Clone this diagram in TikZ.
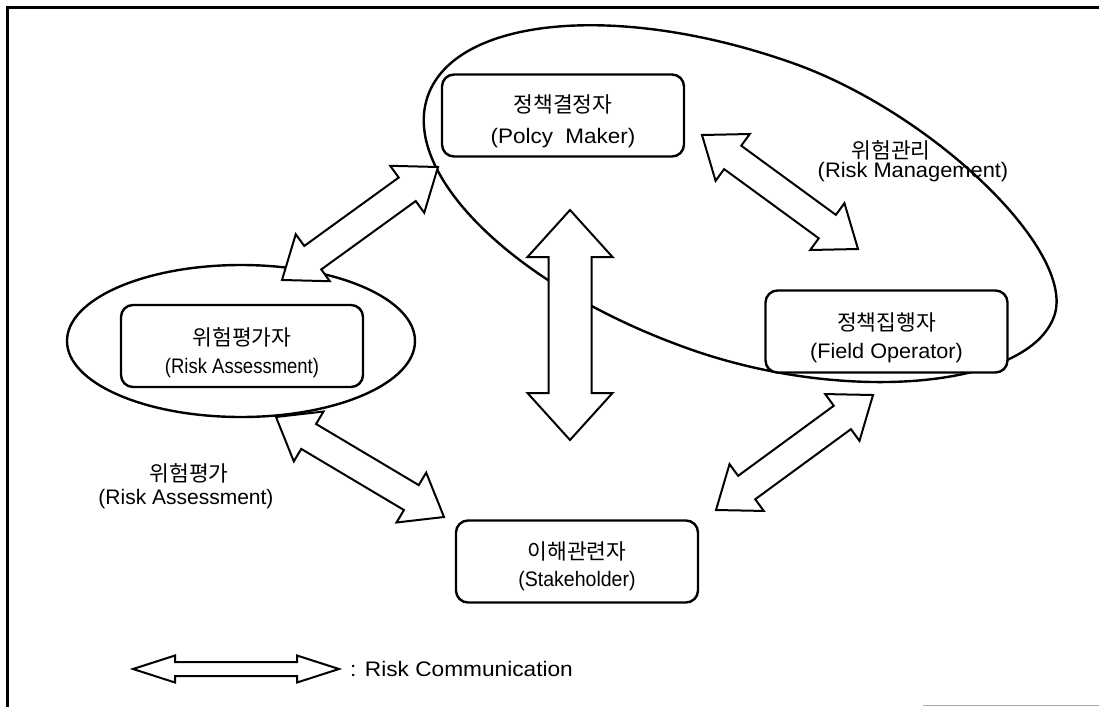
\documentclass[tikz,border=0pt]{standalone}
\usepackage{fontspec}
\setmainfont{Liberation Sans}
\newfontfamily\krfont{Noto Sans CJK KR}
\usetikzlibrary{calc}

\tikzset{
  box/.style={draw, line width=2.4pt, rounded corners=12pt,
    minimum width=242pt, minimum height=82pt, inner sep=0pt},
  boxtext/.style={align=center, inner sep=0pt,
    font=\fontsize{21}{#1}\selectfont},
  boxtext/.default=28,
  entext/.style={inner sep=0pt, font=\fontsize{21}{24}\selectfont},
  krtext/.style={inner sep=0pt, font=\krfont\fontsize{21.5}{24}\selectfont},
  blk/.style={draw, line width=2pt, fill=white, line join=miter},
  group/.style={draw, line width=2.4pt},
  frame/.style={line width=3pt},
}
\newcommand\kr[1]{{\krfont\fontsize{21.5}{22}\selectfont #1}}
\newcommand\txtw[2]{\scalebox{#1}[1]{#2}}

% hollow double-headed block arrow between two tips
% #1,#2 tips; #3 half shaft width; #4 half head width; #5 head length
\newcommand\dblarrow[5]{%
  \draw[blk] (#1)
    -- ($(#1)!#5!(#2)!#4!90:(#2)$)
    -- ($(#1)!#5!(#2)!#3!90:(#2)$)
    -- ($(#2)!#5!(#1)!#3!270:(#1)$)
    -- ($(#2)!#5!(#1)!#4!270:(#1)$)
    -- (#2)
    -- ($(#2)!#5!(#1)!#4!90:(#1)$)
    -- ($(#2)!#5!(#1)!#3!90:(#1)$)
    -- ($(#1)!#5!(#2)!#3!270:(#2)$)
    -- ($(#1)!#5!(#2)!#4!270:(#2)$)
    -- cycle;}

\begin{document}
\begin{tikzpicture}[x=1pt,y=-1pt]
\useasboundingbox (0,0) rectangle (1099,707);

% page frame
\draw[frame] (7,707) -- (7,7) -- (1099,7);
\draw[gray!70, line width=1.2pt] (923,705.5) -- (1099,705.5);

% groupings: risk assessment, and risk management (tilted oval)
\draw[group] (241,341) ellipse [x radius=174pt, y radius=76pt];
\coordinate (mr) at (1054.2,316.0);
\coordinate (mt) at (791.4,62.6);
\coordinate (ml) at (427.8,96.0);
\coordinate (mb) at (690.6,349.4);
\draw[group] (mr)
  .. controls (1076.9,251.5) and (932.4,112.1) .. (mt)
  .. controls (618.4,1.8) and (455.6,16.8) .. (ml)
  .. controls (400,175.2) and (517.6,288.6) .. (mb)
  .. controls (847.2,404.4) and (1029,387.7) .. (mr) -- cycle;

% actors
\node[box, fill=white] (pm) at (563,115.5) {};
\node[box, fill=white] (ra) at (242,346) {};
\node[box, fill=white] (fo) at (886.5,331.5) {};
\node[box, fill=white] (sh) at (577,561.5) {};

\node[boxtext=31] (pm-t) at ($(pm)+(0,5.5)$) {\kr{정책결정자}\\\txtw{1.07}{(Polcy\ \ Maker)}};
\node[boxtext] (ra-t) at ($(ra)+(0,7)$) {\kr{위험평가자}\\\txtw{0.88}{(Risk Assessment)}};
\node[boxtext] (fo-t) at ($(fo)+(0,6)$) {\kr{정책집행자}\\\txtw{1.03}{(Field Operator)}};
\node[boxtext=27] (sh-t) at ($(sh)+(0,4.5)$) {\kr{이해관련자}\\\txtw{0.93}{(Stakeholder)}};

% arrow tips
\coordinate (a1s) at (282,280); \coordinate (a1e) at (438,167);
\coordinate (a2s) at (702,135); \coordinate (a2e) at (858,249);
\coordinate (a3s) at (570,210); \coordinate (a3e) at (570,440);
\coordinate (a4s) at (276,417); \coordinate (a4e) at (444,517);
\coordinate (a5s) at (716,510); \coordinate (a5e) at (873,395);

\dblarrow{a1s}{a1e}{14.5pt}{29pt}{38pt}
\dblarrow{a2s}{a2e}{14.5pt}{29pt}{38pt}
\dblarrow{a3s}{a3e}{21.5pt}{42.5pt}{47pt}
\dblarrow{a4s}{a4e}{14.5pt}{29pt}{38pt}
\dblarrow{a5s}{a5e}{14.5pt}{29pt}{38pt}

% process labels
\node[krtext] (rm-k) at (891,150) {위험관리};
\node[entext] (rm-e) at (913,172.5) {\txtw{1.04}{(Risk Management)}};
\node[krtext] (rs-k) at (189,473) {위험평가};
\node[entext] (rs-e) at (186,499) {(Risk Assessment)};

% legend
\coordinate (lgs) at (133,669); \coordinate (lge) at (339,669);
\dblarrow{lgs}{lge}{7pt}{13.5pt}{42pt}
\node[entext, anchor=west] (lg-t) at (350,669) {\txtw{1.08}{: Risk Communication}};
\end{tikzpicture}
\end{document}
